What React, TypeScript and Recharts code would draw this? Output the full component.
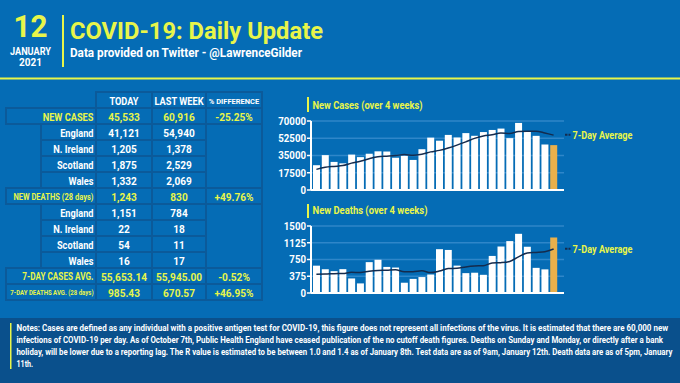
import React, { useLayoutEffect, useRef, useState } from 'react';
import { ComposedChart, Bar, Line, XAxis, YAxis, CartesianGrid, Cell } from 'recharts';

// ---------- data ----------
const days = [
  '16 Dec', '17 Dec', '18 Dec', '19 Dec', '20 Dec', '21 Dec', '22 Dec', '23 Dec', '24 Dec', '25 Dec',
  '26 Dec', '27 Dec', '28 Dec', '29 Dec', '30 Dec', '31 Dec', '1 Jan', '2 Jan', '3 Jan', '4 Jan',
  '5 Jan', '6 Jan', '7 Jan', '8 Jan', '9 Jan', '10 Jan', '11 Jan', '12 Jan',
];
const newCases = [
  25161, 35383, 28507, 27052, 35928, 33364, 36804, 39237, 39036, 32725,
  34693, 30501, 41385, 53135, 50023, 55892, 53285, 57725, 54990, 58784,
  60916, 62322, 52618, 68053, 59937, 54940, 46165, 45533,
];
const casesAvg = [
  20923, 22983, 23959, 24752, 27249, 29121, 31743, 33754, 34275, 34878,
  35970, 35194, 36340, 38673, 40214, 42622, 45559, 48849, 52348, 54833,
  55945, 57702, 57234, 59344, 59660, 59653, 57850, 55653,
];
const newDeaths = [
  612, 532, 489, 534, 326, 215, 691, 744, 584, 570,
  230, 316, 357, 414, 981, 964, 613, 445, 454, 407,
  830, 1041, 1162, 1325, 1035, 563, 529, 1243,
];
const deathsAvg = [
  422, 424, 433, 436, 462, 459, 486, 504, 510, 521,
  478, 477, 497, 457, 491, 547, 554, 584, 604, 611,
  671, 679, 707, 809, 893, 909, 926, 985,
];
const casesTicks = [0, 17500, 35000, 52500, 70000];
const deathsTicks = [0, 375, 750, 1125, 1500];

const headerLabels = ['TODAY', 'LAST WEEK', '% DIFFERENCE'];
const rowLabels = [
  'NEW CASES', 'England', 'N. Ireland', 'Scotland', 'Wales',
  'NEW DEATHS (28 days)', 'England', 'N. Ireland', 'Scotland', 'Wales',
  '7-DAY CASES AVG.', '7-DAY DEATHS AVG. (28 days)',
];
const todayValues = ['45,533', '41,121', '1,205', '1,875', '1,332', '1,243', '1,151', '22', '54', '16', '55,653.14', '985.43'];
const lastWeekValues = ['60,916', '54,940', '1,378', '2,529', '2,069', '830', '784', '18', '11', '17', '55,945.00', '670.57'];
const diffValues = ['-25.25%', '', '', '', '', '+49.76%', '', '', '', '', '-0.52%', '+46.95%'];
const mainRows = [0, 5, 10, 11];

const notesLines = [
  'Notes: Cases are defined as any individual with a positive antigen test for COVID-19, this figure does not represent all infections of the virus. It is estimated that there are 60,000 new',
  'infections of COVID-19 per day. As of October 7th, Public Health England have ceased publication of the no cutoff death figures. Deaths on Sunday and Monday, or directly after a bank',
  'holiday, will be lower due to a reporting lag. The R value is estimated to be between 1.0 and 1.4 as of January 8th. Test data are as of 9am, January 12th. Death data are as of 5pm, January',
  '11th.',
];

// ---------- styles ----------
const BG = '#056cb5';
const YELLOW = '#e8f54a';
const BORDER = '#0b5a9a';
const GRID = '#2f86c9';
const NAVY = '#142b4d';
const ORANGE = '#e9b04b';
const FONT = 'Roboto, "Liberation Sans", sans-serif';

type TProps = {
  x: number; y: number; size: number; sx?: number; w?: number;
  anchor?: 'start' | 'middle' | 'end'; fill?: string; children: React.ReactNode;
};
function T({ x, y, size, sx = 1, w, anchor = 'start', fill = '#fff', children }: TProps) {
  if (w) {
    return (
      <text x={x} y={y} fontFamily={FONT} fontWeight={700} fontSize={size} textAnchor={anchor}
        fill={fill} textLength={w} lengthAdjust="spacingAndGlyphs">{children}</text>
    );
  }
  return (
    <text transform={`translate(${x},${y}) scale(${sx},1)`} fontFamily={FONT} fontWeight={700}
      fontSize={size} textAnchor={anchor} fill={fill}>{children}</text>
  );
}

// text squeezed horizontally (by transform) to a target width
function FitText({ x, y, size, w, fill = '#fff', children }: { x: number; y: number; size: number; w: number; fill?: string; children: string }) {
  const ref = useRef<SVGTextElement>(null);
  const [sx, setSx] = useState(0.8);
  useLayoutEffect(() => {
    if (ref.current) {
      const natural = ref.current.getComputedTextLength();
      if (natural > 0) setSx(w / natural);
    }
  }, [w, children]);
  return (
    <text ref={ref} transform={`translate(${x},${y}) scale(${sx},1)`} fontFamily={FONT} fontWeight={700}
      fontSize={size} fill={fill}>{children}</text>
  );
}

const AxisTick = (props: any) => {
  const { x, y, payload } = props;
  return (
    <text transform={`translate(${x},${y + 3.8}) scale(0.88,1)`} textAnchor="end" fill="#fff"
      fontSize={11} fontWeight={700} fontFamily={FONT}>{payload.value}</text>
  );
};

function MiniChart({ data, max, ticks, top, height }: { data: any[]; max: number; ticks: number[]; top: number; height: number }) {
  return (
    <div style={{ position: 'absolute', left: 270, top }}>
      <ComposedChart width={300} height={height} data={data} margin={{ top: 11, right: 6, bottom: 5, left: 0 }}>
        <CartesianGrid vertical={false} stroke={GRID} strokeWidth={1.5} />
        <XAxis dataKey="day" tick={false} tickLine={false} height={1}
          axisLine={{ stroke: '#fff', strokeWidth: 2 }} padding={{ left: 1, right: 6 }} />
        <YAxis domain={[0, max]} ticks={ticks} interval={0} width={41} tickSize={4} tickMargin={1}
          tick={<AxisTick />} tickLine={{ stroke: '#fff', strokeWidth: 1.5 }}
          axisLine={{ stroke: '#fff', strokeWidth: 2 }} />
        <Bar dataKey="value" barSize={7} isAnimationActive={false}>
          {data.map((_, i) => (
            <Cell key={i} fill={i === data.length - 1 ? ORANGE : '#ffffff'} />
          ))}
        </Bar>
        <Line dataKey="avg" type="monotone" stroke={NAVY} strokeWidth={1.5} dot={false} isAnimationActive={false} />
      </ComposedChart>
    </div>
  );
}

export default function App() {
  const casesData = days.map((d, i) => ({ day: d, value: newCases[i], avg: casesAvg[i] }));
  const deathsData = days.map((d, i) => ({ day: d, value: newDeaths[i], avg: deathsAvg[i] }));

  const rowTop = (i: number) => 108 + 16 * i;
  const labelStyle = (i: number) => {
    if (i === 0) return { size: 11, sx: 0.84 };
    if (i === 5) return { size: 9, sx: 0.84 };
    if (i === 10) return { size: 10, sx: 0.82 };
    if (i === 11) return { size: 7.2, sx: 0.84 };
    return { size: 11, sx: 0.84 };
  };
  const base = (y0: number, size: number) => y0 + 8.6 + size * 0.36;

  const cells: React.ReactNode[] = [];
  [[96, 152], [152, 206], [206, 262]].forEach(([a, b], k) => {
    cells.push(<rect key={`h${k}`} x={a} y={92} width={b - a} height={16} fill="none" stroke={BORDER} strokeWidth={2} />);
  });
  rowLabels.forEach((_, i) => {
    const y0 = rowTop(i);
    const isMain = mainRows.includes(i);
    cells.push(<rect key={`l${i}`} x={isMain ? 6 : 41} y={y0} width={isMain ? 90 : 55} height={16} fill="none" stroke={BORDER} strokeWidth={2} />);
    cells.push(<rect key={`t${i}`} x={96} y={y0} width={56} height={16} fill="none" stroke={BORDER} strokeWidth={2} />);
    cells.push(<rect key={`w${i}`} x={152} y={y0} width={54} height={16} fill="none" stroke={BORDER} strokeWidth={2} />);
    if (isMain) cells.push(<rect key={`d${i}`} x={206} y={y0} width={56} height={16} fill="none" stroke={BORDER} strokeWidth={2} />);
  });
  cells.push(<rect key="m1" x={206} y={rowTop(1)} width={56} height={64} fill="none" stroke={BORDER} strokeWidth={2} />);
  cells.push(<rect key="m2" x={206} y={rowTop(6)} width={56} height={64} fill="none" stroke={BORDER} strokeWidth={2} />);

  return (
    <div style={{ position: 'fixed', left: 0, top: 0, width: 680, height: 383, background: BG, overflow: 'hidden' }}>
      <svg width={680} height={383} style={{ position: 'absolute', left: 0, top: 0 }}>
        {/* header */}
        <T x={30.5} y={37} size={31} w={34} anchor="middle" fill={YELLOW}>12</T>
        <T x={30.5} y={55} size={10} w={41} anchor="middle">JANUARY</T>
        <T x={30.5} y={65.7} size={10} w={23} anchor="middle">2021</T>
        <rect x={62} y={15} width={2} height={52} fill={YELLOW} />
        <T x={70} y={39} size={24.5} w={253} fill={YELLOW}>COVID-19: Daily Update</T>
        <T x={70} y={57} size={12.5} w={232}>Data provided on Twitter - @LawrenceGilder</T>
        <rect x={0} y={77.5} width={680} height={2} fill={YELLOW} />

        {/* table */}
        {cells}
        <T x={124} y={105} size={11} sx={0.84} anchor="middle">{headerLabels[0]}</T>
        <T x={179} y={105} size={11} sx={0.84} anchor="middle">{headerLabels[1]}</T>
        <T x={234} y={104} size={7.5} sx={1} anchor="middle">{headerLabels[2]}</T>
        {rowLabels.map((lab, i) => {
          const y0 = rowTop(i);
          const isMain = mainRows.includes(i);
          const ls = labelStyle(i);
          const col = isMain ? YELLOW : '#fff';
          return (
            <g key={`r${i}`}>
              <T x={93.5} y={base(y0, ls.size)} size={ls.size} sx={ls.sx} anchor="end" fill={col}>{lab}</T>
              <T x={124} y={base(y0, 11)} size={11} sx={0.92} anchor="middle" fill={col}>{todayValues[i]}</T>
              <T x={179} y={base(y0, 11)} size={11} sx={0.92} anchor="middle" fill={col}>{lastWeekValues[i]}</T>
              {diffValues[i] ? (
                <T x={234} y={base(y0, 11)} size={11} sx={0.92} anchor="middle" fill={col}>{diffValues[i]}</T>
              ) : null}
            </g>
          );
        })}

        {/* chart titles & legends */}
        <rect x={307} y={97} width={2} height={15} fill={YELLOW} />
        <T x={312.5} y={108.5} size={11} w={110} fill={YELLOW}>New Cases (over 4 weeks)</T>
        <rect x={307} y={204} width={2} height={14} fill={YELLOW} />
        <T x={312.5} y={214} size={11} w={115} fill={YELLOW}>New Deaths (over 4 weeks)</T>

        <line x1={565} x2={570.5} y1={134.7} y2={134.7} stroke={NAVY} strokeWidth={2} strokeDasharray="2.5 1" />
        <T x={572.5} y={138.5} size={11} w={60} fill={YELLOW}>7-Day Average</T>
        <line x1={565} x2={570.5} y1={248.7} y2={248.7} stroke={NAVY} strokeWidth={2} strokeDasharray="2.5 1" />
        <T x={572.5} y={252.5} size={11} w={60} fill={YELLOW}>7-Day Average</T>

        {/* notes */}
        <rect x={0} y={318} width={680} height={65} fill="#0a508c" />
        <rect x={10} y={323} width={1.5} height={46} fill={YELLOW} />
        <FitText x={16.5} y={330.5} size={8.5} w={652}>{notesLines[0]}</FitText>
        <FitText x={16.5} y={342.5} size={8.5} w={647}>{notesLines[1]}</FitText>
        <FitText x={16.5} y={354.8} size={8.5} w={656}>{notesLines[2]}</FitText>
        <T x={16.5} y={367} size={8.5} sx={0.84}>{notesLines[3]}</T>
      </svg>

      <MiniChart data={casesData} max={70000} ticks={casesTicks} top={110} height={86} />
      <MiniChart data={deathsData} max={1500} ticks={deathsTicks} top={215} height={84} />
    </div>
  );
}
